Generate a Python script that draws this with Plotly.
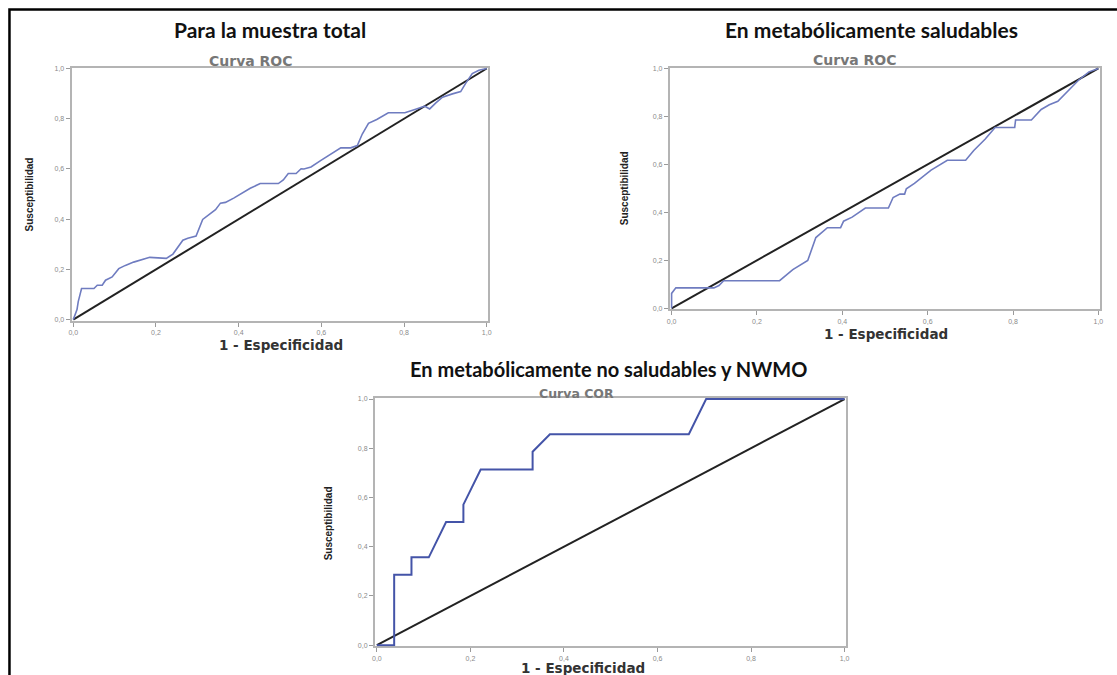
import plotly.graph_objects as go

W, H = 1117, 675

# ---------------- data ----------------
tick_vals = [0, 0.2, 0.4, 0.6, 0.8, 1.0]
tick_text = ["0,0", "0,2", "0,4", "0,6", "0,8", "1,0"]

diag_x = [0, 1]
diag_y = [0, 1]

fpr_total = [0, 0.009, 0.012, 0.02, 0.05, 0.058, 0.07, 0.078, 0.094, 0.11, 0.126, 0.146,
             0.185, 0.225, 0.241, 0.265, 0.277, 0.297, 0.313, 0.329, 0.344, 0.356, 0.368,
             0.388, 0.408, 0.428, 0.452, 0.496, 0.508, 0.52, 0.539, 0.551, 0.558, 0.575,
             0.599, 0.631, 0.647, 0.671, 0.687, 0.699, 0.714, 0.734, 0.762, 0.802, 0.818,
             0.83, 0.85, 0.862, 0.877, 0.893, 0.917, 0.937, 0.949, 0.965, 0.981, 1]
tpr_total = [0, 0.04, 0.072, 0.124, 0.124, 0.137, 0.137, 0.157, 0.17, 0.203, 0.216, 0.229,
             0.248, 0.244, 0.261, 0.316, 0.324, 0.333, 0.399, 0.418, 0.438, 0.464, 0.467,
             0.484, 0.503, 0.523, 0.542, 0.542, 0.556, 0.582, 0.582, 0.601, 0.6, 0.608,
             0.634, 0.667, 0.684, 0.684, 0.693, 0.739, 0.782, 0.797, 0.824, 0.824, 0.834,
             0.839, 0.85, 0.839, 0.863, 0.886, 0.899, 0.908, 0.941, 0.98, 0.993, 1]

fpr_healthy = [0, 0, 0.01, 0.099, 0.111, 0.122, 0.253, 0.284, 0.319, 0.330, 0.338, 0.365,
               0.396, 0.403, 0.423, 0.454, 0.508, 0.519, 0.535, 0.546, 0.55, 0.569, 0.608,
               0.646, 0.689, 0.708, 0.735, 0.758, 0.804, 0.806, 0.843, 0.866, 0.885, 0.905,
               0.931, 0.954, 0.978, 1]
tpr_healthy = [0, 0.062, 0.085, 0.085, 0.095, 0.115, 0.115, 0.161, 0.199, 0.254, 0.295, 0.336,
               0.336, 0.363, 0.38, 0.418, 0.418, 0.462, 0.476, 0.476, 0.498, 0.521, 0.576,
               0.617, 0.617, 0.658, 0.706, 0.754, 0.754, 0.785, 0.785, 0.829, 0.849, 0.863,
               0.911, 0.952, 0.986, 1]

fpr_unhealthy = [0, 0.037, 0.037, 0.074, 0.074, 0.111, 0.148, 0.185, 0.185, 0.222, 0.333,
                 0.333, 0.370, 0.667, 0.704, 1]
tpr_unhealthy = [0, 0, 0.286, 0.286, 0.357, 0.357, 0.5, 0.5, 0.571, 0.714, 0.714,
                 0.786, 0.857, 0.857, 1, 1]

panel_titles = ["Para la muestra total", "En metabólicamente saludables",
                "En metabólicamente no saludables y NWMO"]
chart_titles = ["Curva ROC", "Curva ROC", "Curva COR"]
x_title = "1 - Especificidad"
y_title = "Susceptibilidad"

# ---------------- layout helpers ----------------
def px_x(p):
    return p / W

def px_y(p):
    return 1 - p / H

# plot areas in pixels: (left, right, top, bottom)
areas = [(69, 488, 65, 320), (670.5, 1103, 65, 308.5), (374, 848, 398, 648)]
curves = [(fpr_total, tpr_total, "#6f7cc0", 1.6),
          (fpr_healthy, tpr_healthy, "#6f7cc0", 1.6),
          (fpr_unhealthy, tpr_unhealthy, "#4454a8", 2.0)]

fig = go.Figure()
layout = dict(width=W, height=H, margin=dict(l=0, r=0, t=0, b=0),
              paper_bgcolor="white", plot_bgcolor="white", showlegend=False)

axis_common = dict(range=[-0.004, 1.004], tickvals=tick_vals, ticktext=tick_text,
                   showgrid=False, zeroline=False, showline=True, mirror=True,
                   linecolor="#b4b4b4", linewidth=2, ticks="outside", ticklen=4,
                   tickcolor="#9a9a9a", tickwidth=1, layer="below traces",
                   tickfont=dict(family="Liberation Sans", size=7, color="#8a8a8a"),
                   fixedrange=True)

for i, (l, r, t, b) in enumerate(areas):
    sfx = "" if i == 0 else str(i + 1)
    layout["xaxis" + sfx] = dict(axis_common, domain=[px_x(l), px_x(r)],
                                 anchor="y" + sfx)
    layout["yaxis" + sfx] = dict(axis_common, domain=[px_y(b), px_y(t)],
                                 anchor="x" + sfx)
    fx, fy, col, wd = curves[i]
    fig.add_trace(go.Scatter(x=diag_x, y=diag_y, mode="lines",
                             line=dict(color="#222222", width=2),
                             xaxis="x" + sfx, yaxis="y" + sfx, hoverinfo="skip"))
    fig.add_trace(go.Scatter(x=fx, y=fy, mode="lines",
                             line=dict(color=col, width=wd),
                             xaxis="x" + sfx, yaxis="y" + sfx))

fig.update_layout(**layout)

annots = []
# main titles
title_pos = [(268, 27, 21), (873, 27, 21), (609, 369, 20)]
for (x, y, s), txt in zip(title_pos, panel_titles):
    annots.append(dict(x=px_x(x), y=px_y(y), xref="paper", yref="paper", text=txt,
                       showarrow=False, xanchor="center", yanchor="middle",
                       font=dict(family="Lato", size=s, color="#111111", weight="bold")))
# chart titles
ct_pos = [(249, 58, 14), (857, 57, 14), (577, 393, 12.5)]
for (x, y, s), txt in zip(ct_pos, chart_titles):
    annots.append(dict(x=px_x(x), y=px_y(y), xref="paper", yref="paper", text=txt,
                       showarrow=False, xanchor="center", yanchor="middle",
                       font=dict(family="DejaVu Sans", size=s, color="#777777",
                                 weight="bold")))
# x titles
xt_pos = [(280, 345), (888, 333), (583, 670)]
for (x, y) in xt_pos:
    annots.append(dict(x=px_x(x), y=px_y(y), xref="paper", yref="paper", text=x_title,
                       showarrow=False, xanchor="center", yanchor="middle",
                       font=dict(family="DejaVu Sans", size=13.5, color="#333333",
                                 weight="bold")))
# y titles
yt_pos = [(27, 193), (625, 187), (327, 524)]
for (x, y) in yt_pos:
    annots.append(dict(x=px_x(x), y=px_y(y), xref="paper", yref="paper", text=y_title,
                       showarrow=False, xanchor="center", yanchor="middle", textangle=-90,
                       font=dict(family="Liberation Sans", size=10,
                                 color="#222222", weight="bold")))
fig.update_layout(annotations=annots)

# outer black frame (left and top edges)
fig.add_shape(type="path", xref="paper", yref="paper",
              path=f"M {px_x(6.5)} {px_y(680)} L {px_x(6.5)} {px_y(6.5)} L {px_x(1120)} {px_y(6.5)}",
              line=dict(color="black", width=2.5))

fig.write_html("out.html", config={"displayModeBar": False},
               post_script="document.body.style.margin='0';")
